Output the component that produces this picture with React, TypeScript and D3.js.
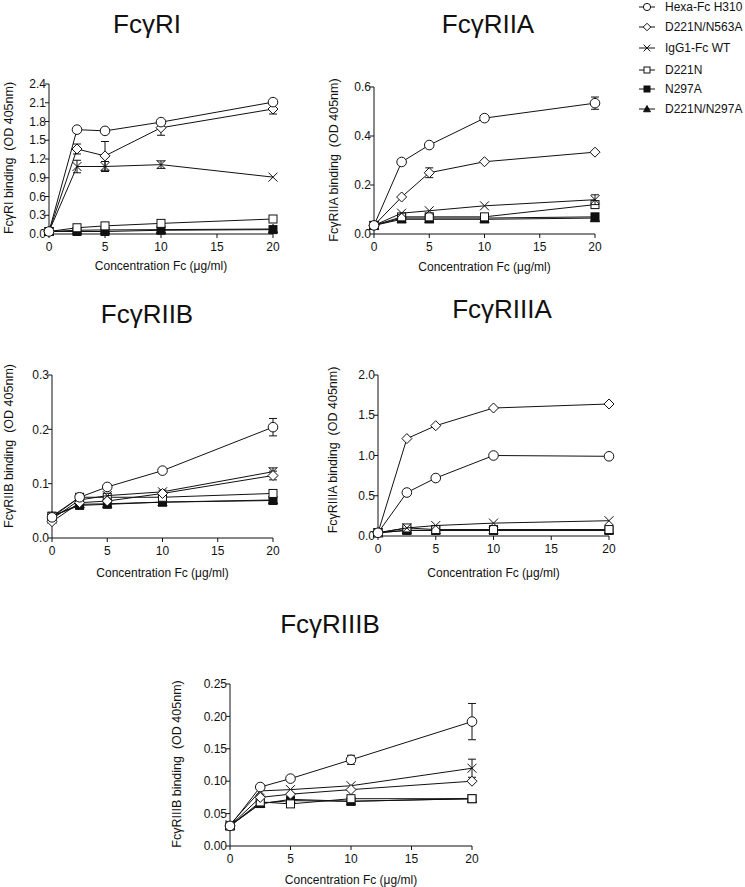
import React from "react";
import * as d3 from "d3";

const xValues = [0, 2.5, 5, 10, 20];
const xTicks = [0, 5, 10, 15, 20];
const seriesNames = ["Hexa-Fc H310", "D221N/N563A", "IgG1-Fc WT", "D221N", "N297A", "D221N/N297A"];
const seriesSymbols = ["circle", "diamond", "x", "square", "filledSquare", "filledTriangle"];

// FcγRI
const RI_values = [
  [0.04, 1.67, 1.65, 1.79, 2.11],
  [0.04, 1.36, 1.25, 1.70, 2.00],
  [0.04, 1.08, 1.08, 1.11, 0.91],
  [0.04, 0.10, 0.13, 0.17, 0.24],
  [0.04, 0.04, 0.04, 0.06, 0.07],
  [0.04, 0.06, 0.065, 0.07, 0.08],
];
const RI_errors = [
  [0, 0, 0, 0, 0.03],
  [0, 0.08, 0.23, 0.12, 0.08],
  [0, 0.1, 0.08, 0.06, 0],
  [0, 0, 0, 0, 0],
  [0, 0, 0, 0, 0],
  [0, 0, 0, 0, 0],
];
const RI_ticks = [0, 0.3, 0.6, 0.9, 1.2, 1.5, 1.8, 2.1, 2.4];

// FcγRIIA
const RIIA_values = [
  [0.035, 0.294, 0.363, 0.473, 0.534],
  [0.035, 0.151, 0.25, 0.295, 0.334],
  [0.035, 0.085, 0.095, 0.115, 0.14],
  [0.035, 0.07, 0.07, 0.07, 0.12],
  [0.035, 0.065, 0.065, 0.065, 0.07],
  [0.035, 0.06, 0.06, 0.06, 0.065],
];
const RIIA_errors = [
  [0, 0, 0, 0, 0.025],
  [0, 0, 0.02, 0, 0],
  [0, 0, 0, 0, 0.02],
  [0, 0, 0, 0, 0.015],
  [0, 0, 0, 0, 0],
  [0, 0, 0, 0, 0],
];
const RIIA_ticks = [0, 0.2, 0.4, 0.6];

// FcγRIIB
const RIIB_values = [
  [0.038, 0.075, 0.094, 0.124, 0.204],
  [0.03, 0.065, 0.068, 0.082, 0.115],
  [0.035, 0.07, 0.078, 0.085, 0.122],
  [0.04, 0.075, 0.075, 0.075, 0.082],
  [0.04, 0.06, 0.062, 0.066, 0.069],
  [0.04, 0.062, 0.063, 0.066, 0.07],
];
const RIIB_errors = [
  [0, 0, 0, 0, 0.016],
  [0, 0, 0, 0, 0.008],
  [0, 0, 0, 0.003, 0.007],
  [0, 0, 0, 0, 0],
  [0, 0, 0, 0, 0],
  [0, 0, 0, 0, 0],
];
const RIIB_ticks = [0, 0.1, 0.2, 0.3];

// FcγRIIIA
const RIIIA_values = [
  [0.04, 0.54, 0.72, 1.0, 0.99],
  [0.04, 1.21, 1.37, 1.59, 1.64],
  [0.04, 0.10, 0.13, 0.16, 0.19],
  [0.04, 0.10, 0.08, 0.08, 0.08],
  [0.04, 0.07, 0.07, 0.07, 0.07],
  [0.04, 0.07, 0.07, 0.07, 0.07],
];
const RIIIA_errors = [
  [0, 0, 0, 0, 0],
  [0, 0, 0, 0, 0],
  [0, 0, 0, 0, 0],
  [0, 0, 0, 0, 0],
  [0, 0, 0, 0, 0],
  [0, 0, 0, 0, 0],
];
const RIIIA_ticks = [0, 0.5, 1.0, 1.5, 2.0];

// FcγRIIIB
const RIIIB_values = [
  [0.031, 0.091, 0.104, 0.133, 0.192],
  [0.031, 0.075, 0.08, 0.087, 0.10],
  [0.033, 0.085, 0.087, 0.093, 0.120],
  [0.031, 0.068, 0.065, 0.073, 0.073],
  [0.031, 0.066, 0.07, 0.069, 0.073],
  [0.031, 0.065, 0.072, 0.069, 0.073],
];
const RIIIB_errors = [
  [0, 0, 0, 0.007, 0.028],
  [0, 0, 0, 0, 0],
  [0, 0, 0, 0, 0.014],
  [0, 0, 0, 0, 0],
  [0, 0, 0, 0, 0],
  [0, 0, 0, 0, 0],
];
const RIIIB_ticks = [0, 0.05, 0.1, 0.15, 0.2, 0.25];

const FONT = "'Liberation Sans', Arial, sans-serif";
const INK = "#111";

function Marker({ kind, x, y, s = 1 }: { kind: string; x: number; y: number; s?: number }) {
  const common = { stroke: INK, strokeWidth: 1 };
  if (kind === "circle") return <circle cx={x} cy={y} r={4.8 * s} fill="white" {...common} />;
  if (kind === "diamond") {
    const r = 5 * s;
    return <path d={`M${x},${y - r}L${x + r},${y}L${x},${y + r}L${x - r},${y}Z`} fill="white" {...common} />;
  }
  if (kind === "x") {
    const r = 4.5 * s;
    return <path d={`M${x - r},${y - r}L${x + r},${y + r}M${x - r},${y + r}L${x + r},${y - r}`} fill="none" {...common} />;
  }
  if (kind === "square" || kind === "filledSquare") {
    const r = 4 * s;
    return <rect x={x - r} y={y - r} width={2 * r} height={2 * r} fill={kind === "square" ? "white" : INK} {...common} />;
  }
  const r = 4.6 * s;
  return <path d={`M${x},${y - r}L${x + r},${y + r * 0.8}L${x - r},${y + r * 0.8}Z`} fill={INK} {...common} />;
}

type PanelProps = {
  title: string;
  label: string;
  values: number[][];
  errors: number[][];
  yTicks: number[];
  fmt: string;
  x0: number; x1: number; yTop: number; yBot: number;
  titleX: number; titleY: number;
  labelX: number; labelY: number;
  xlabOff: number;
};

function Panel(p: PanelProps) {
  const xs = d3.scaleLinear().domain([0, 20]).range([p.x0, p.x1]);
  const ys = d3.scaleLinear().domain([0, p.yTicks[p.yTicks.length - 1]]).range([p.yBot, p.yTop]);
  const line = d3.line<number>().x((_, i) => xs(xValues[i])).y((v) => ys(v));
  const f = d3.format(p.fmt);
  const order = p.values.map((_, i) => i).reverse();
  return (
    <g>
      <text x={p.titleX} y={p.titleY} textAnchor="middle" fontSize={26} fontFamily={FONT} fill={INK}>{p.title}</text>
      <line x1={p.x0} x2={p.x0} y1={p.yTop} y2={p.yBot} stroke={INK} strokeWidth={1} />
      {p.yTicks.map((t) => (
        <g key={t}>
          <line x1={p.x0 - 4} x2={p.x0} y1={ys(t)} y2={ys(t)} stroke={INK} />
          <text x={p.x0 - 3} y={ys(t)} dy="0.35em" textAnchor="end" fontSize={12} fontFamily={FONT} fill={INK}>{f(t)}</text>
        </g>
      ))}
      <line x1={p.x0} x2={p.x1} y1={p.yBot} y2={p.yBot} stroke={INK} strokeWidth={1} />
      {xTicks.map((t) => (
        <g key={t}>
          <line x1={xs(t)} x2={xs(t)} y1={p.yBot} y2={p.yBot + 4} stroke={INK} />
          <text x={xs(t)} y={p.yBot + 17} textAnchor="middle" fontSize={12} fontFamily={FONT} fill={INK}>{t}</text>
        </g>
      ))}
      <text x={(p.x0 + p.x1) / 2} y={p.yBot + p.xlabOff} textAnchor="middle" fontSize={12} fontFamily={FONT} fill={INK}>Concentration Fc (μg/ml)</text>
      <text transform={`translate(${p.labelX},${p.labelY}) rotate(-90)`} textAnchor="middle" dominantBaseline="central" fontSize={12.5} fontFamily={FONT} fill={INK} style={{ whiteSpace: "pre" }}>{p.label}</text>
      {order.map((si) => {
        const vals = p.values[si];
        return (
          <g key={si}>
            <path d={line(vals) || ""} fill="none" stroke={INK} strokeWidth={1} />
            {vals.map((v, i) => {
              const e = p.errors[si][i];
              if (!e) return null;
              const cx = xs(xValues[i]);
              return (
                <path key={"e" + i} d={`M${cx},${ys(v - e)}L${cx},${ys(v + e)}M${cx - 4},${ys(v - e)}L${cx + 4},${ys(v - e)}M${cx - 4},${ys(v + e)}L${cx + 4},${ys(v + e)}`} stroke={INK} fill="none" />
              );
            })}
            {vals.map((v, i) => (
              <Marker key={i} kind={seriesSymbols[si]} x={xs(xValues[i])} y={ys(v)} />
            ))}
          </g>
        );
      })}
    </g>
  );
}

const legendY = [7, 27, 48, 70, 89, 109];

export default function App() {
  return (
    <svg width={745} height={887} style={{ position: "absolute", left: 0, top: 0, background: "white" }}>
      <Panel title="FcγRI" label={"FcγRI binding  (OD 405nm)"} values={RI_values} errors={RI_errors} yTicks={RI_ticks} fmt=".1f"
        x0={49} x1={273} yTop={84} yBot={234} titleX={147} titleY={33} labelX={9} labelY={158} xlabOff={36} />
      <Panel title="FcγRIIA" label={"FcγRIIA binding  (OD 405nm)"} values={RIIA_values} errors={RIIA_errors} yTicks={RIIA_ticks} fmt=".1f"
        x0={374} x1={595} yTop={87} yBot={234} titleX={488} titleY={33} labelX={334} labelY={160} xlabOff={37} />
      <Panel title="FcγRIIB" label={"FcγRIIB binding  (OD 405nm)"} values={RIIB_values} errors={RIIB_errors} yTicks={RIIB_ticks} fmt=".1f"
        x0={52} x1={273} yTop={375} yBot={538} titleX={147} titleY={323} labelX={9} labelY={446} xlabOff={39} />
      <Panel title="FcγRIIIA" label={"FcγRIIIA binding  (OD 405nm)"} values={RIIIA_values} errors={RIIIA_errors} yTicks={RIIIA_ticks} fmt=".1f"
        x0={378} x1={609} yTop={375} yBot={536} titleX={502} titleY={318} labelX={333} labelY={450} xlabOff={41} />
      <Panel title="FcγRIIIB" label={"FcγRIIIB binding  (OD 405nm)"} values={RIIIB_values} errors={RIIIB_errors} yTicks={RIIIB_ticks} fmt=".2f"
        x0={230} x1={472} yTop={684} yBot={846} titleX={330} titleY={633} labelX={177} labelY={764} xlabOff={38} />
      {seriesNames.map((name, i) => (
        <g key={name}>
          <line x1={639} x2={655} y1={legendY[i]} y2={legendY[i]} stroke={INK} />
          <Marker kind={seriesSymbols[i]} x={647} y={legendY[i]} s={0.75} />
          <text x={665} y={legendY[i]} dy="0.35em" fontSize={12} fontFamily={FONT} fill={INK}>{name}</text>
        </g>
      ))}
    </svg>
  );
}
